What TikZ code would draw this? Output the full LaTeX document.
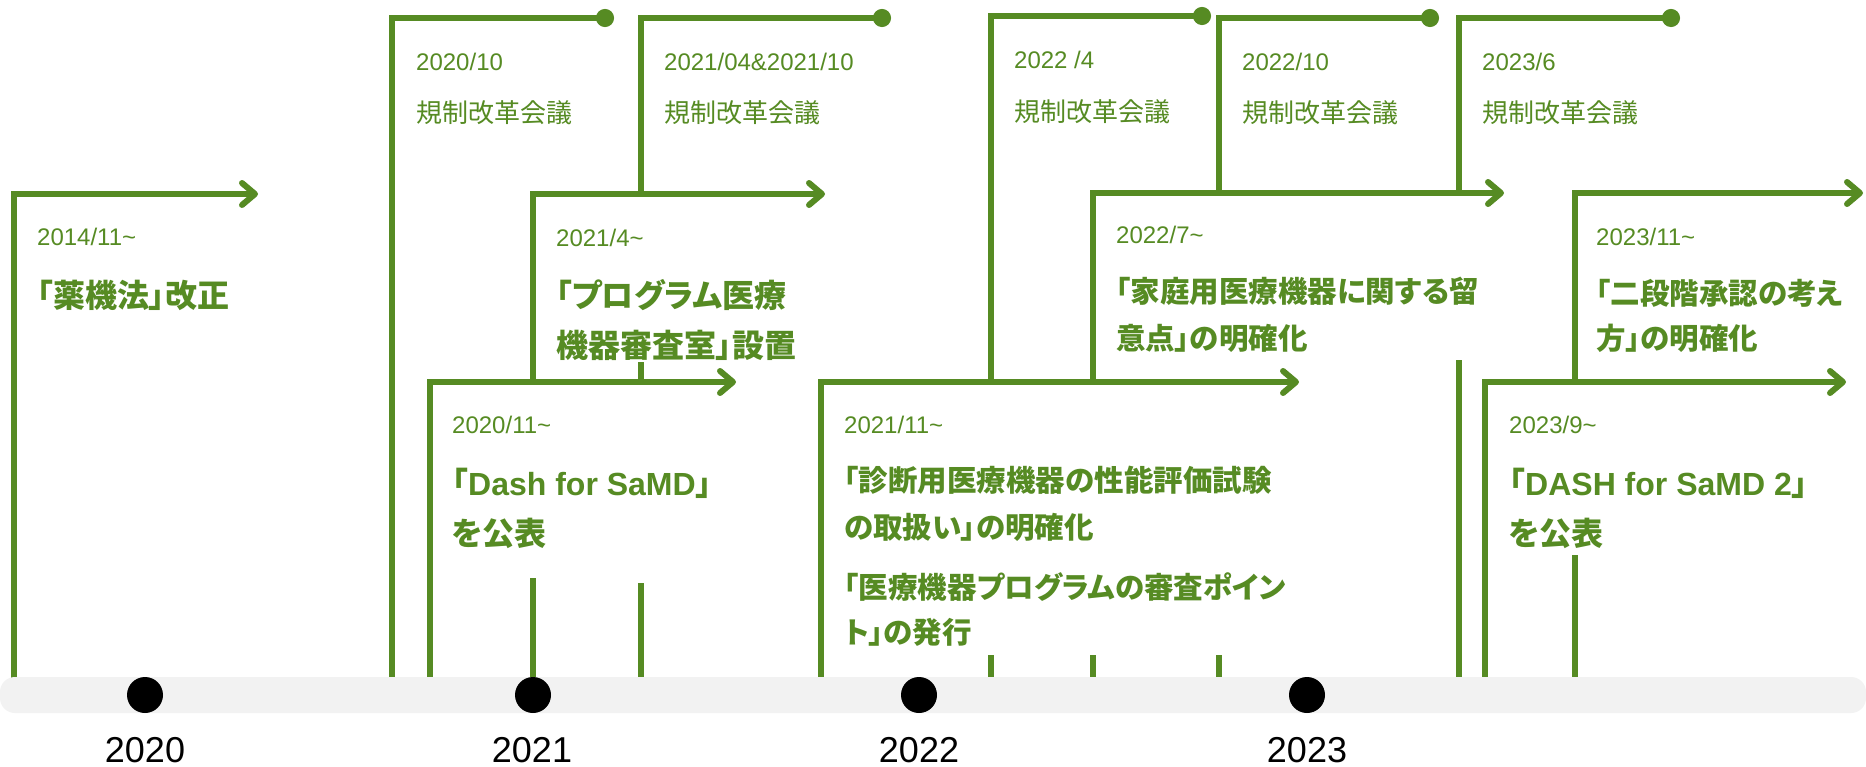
\documentclass[tikz,border=0pt]{standalone}
\usepackage{fontspec}
\setmainfont{Liberation Sans}
\newfontfamily\jpf[RawFeature=+palt]{Noto Sans CJK JP}
\usetikzlibrary{arrows.meta}
\definecolor{tlgreen}{RGB}{86,139,35}
\definecolor{barfill}{RGB}{242,242,242}
\begin{document}
\begin{tikzpicture}[x=1pt,y=-1pt,
  gl/.style={draw=tlgreen,line width=6pt},
  arr/.style={gl,-{Straight Barb[length=13pt,width=22pt,round]}},
  dotend/.style={gl,-{Circle[length=18pt,width=18pt]}},
  date/.style={anchor=west,inner sep=0pt,text=tlgreen,font=\fontsize{24}{28}\selectfont},
  meet/.style={anchor=west,inner sep=0pt,text=tlgreen,font=\jpf\fontsize{26}{30}\selectfont},
  head/.style={anchor=west,inner sep=0pt,text=tlgreen,font=\jpf\bfseries\fontsize{32}{36}\selectfont},
  heads/.style={anchor=west,inner sep=0pt,text=tlgreen,font=\jpf\bfseries\fontsize{29.5}{34}\selectfont},
  year/.style={inner sep=0pt,text=black,font=\fontsize{36}{40}\selectfont},
  ydot/.style={circle,fill=black,minimum size=36pt,inner sep=0pt}]
\useasboundingbox (0,0) rectangle (1866,767);
\fill[white] (0,0) rectangle (1866,767);

% 2014/11
\draw[arr] (14,678) -- (14,194) -- (258,194);
% 2020/10
\draw[dotend] (392,678) -- (392,18) -- (614,18);
% 2021/04&2021/10
\draw[dotend] (641,194) -- (641,18) -- (891,18);
\draw[gl] (641,362) -- (641,382);
\draw[gl] (641,583) -- (641,678);
% 2021/4
\draw[arr] (533,382) -- (533,194) -- (825,194);
\draw[gl] (533,578) -- (533,678);
% 2020/11
\draw[arr] (430,678) -- (430,382) -- (736,382);
% 2022/4
\draw[dotend] (991,382) -- (991,16) -- (1211,16);
\draw[gl] (991,655) -- (991,678);
% 2022/10
\draw[dotend] (1219,193) -- (1219,18) -- (1439,18);
\draw[gl] (1219,655) -- (1219,678);
% 2023/6
\draw[dotend] (1459,193) -- (1459,18) -- (1680,18);
\draw[gl] (1459,360) -- (1459,678);
% 2022/7
\draw[arr] (1093,382) -- (1093,193) -- (1504,193);
\draw[gl] (1093,655) -- (1093,678);
% 2021/11
\draw[arr] (821,678) -- (821,382) -- (1299,382);
% 2023/9
\draw[arr] (1485,678) -- (1485,382) -- (1846,382);
% 2023/11
\draw[arr] (1575,382) -- (1575,193) -- (1863,193);
\draw[gl] (1575,555) -- (1575,678);

% timeline bar
\fill[barfill,rounded corners=15pt] (0,677) rectangle (1866,713);
\node[ydot] (d20) at (145,695) {};
\node[ydot] (d21) at (533,695) {};
\node[ydot] (d22) at (919,695) {};
\node[ydot] (d23) at (1307,695) {};
\node[year] (y20) at (145,750) {2020};
\node[year] (y21) at (532,750) {2021};
\node[year] (y22) at (919,750) {2022};
\node[year] (y23) at (1307,750) {2023};

% texts
\node[date] (tA) at (37,237) {2014/11\textasciitilde};
\node[head] (hA) at (37,295) {「薬機法」改正};

\node[date] (tB) at (416,62) {2020/10};
\node[meet] (mB) at (416,113) {規制改革会議};

\node[date] (tC) at (664,62) {2021/04\&2021/10};
\node[meet] (mC) at (664,113) {規制改革会議};

\node[date] (tP) at (556,238) {2021/4\textasciitilde};
\node[head] (hP1) at (556,295) {「プログラム医療};
\node[head] (hP2) at (556,345) {機器審査室」設置};

\node[date] (tQ) at (452,425) {2020/11\textasciitilde};
\node[head] (hQ1) at (452,483) {「{\rmfamily Dash for SaMD}」};
\node[head] (hQ2) at (452,533) {を公表};

\node[date] (tD) at (1014,60) {2022 /4};
\node[meet] (mD) at (1014,112) {規制改革会議};

\node[date] (tE) at (1242,62) {2022/10};
\node[meet] (mE) at (1242,113) {規制改革会議};

\node[date] (tF) at (1482,62) {2023/6};
\node[meet] (mF) at (1482,113) {規制改革会議};

\node[date] (tG) at (1116,235) {2022/7\textasciitilde};
\node[heads] (hG1) at (1116,291) {「家庭用医療機器に関する留};
\node[heads] (hG2) at (1116,338) {意点」の明確化};

\node[date] (tH) at (844,425) {2021/11\textasciitilde};
\node[heads] (hH1) at (844,480) {「診断用医療機器の性能評価試験};
\node[heads] (hH2) at (844,527) {の取扱い」の明確化};
\node[heads] (hH3) at (844,587) {「医療機器プログラムの審査ポイン};
\node[heads] (hH4) at (844,632) {ト」の発行};

\node[date] (tI) at (1509,425) {2023/9\textasciitilde};
\node[head] (hI1) at (1509,483) {「{\rmfamily DASH for SaMD 2}」};
\node[head] (hI2) at (1509,533) {を公表};

\node[date] (tJ) at (1596,237) {2023/11\textasciitilde};
\node[heads] (hJ1) at (1596,293) {「二段階承認の考え};
\node[heads] (hJ2) at (1596,338) {方」の明確化};
\end{tikzpicture}
\end{document}
